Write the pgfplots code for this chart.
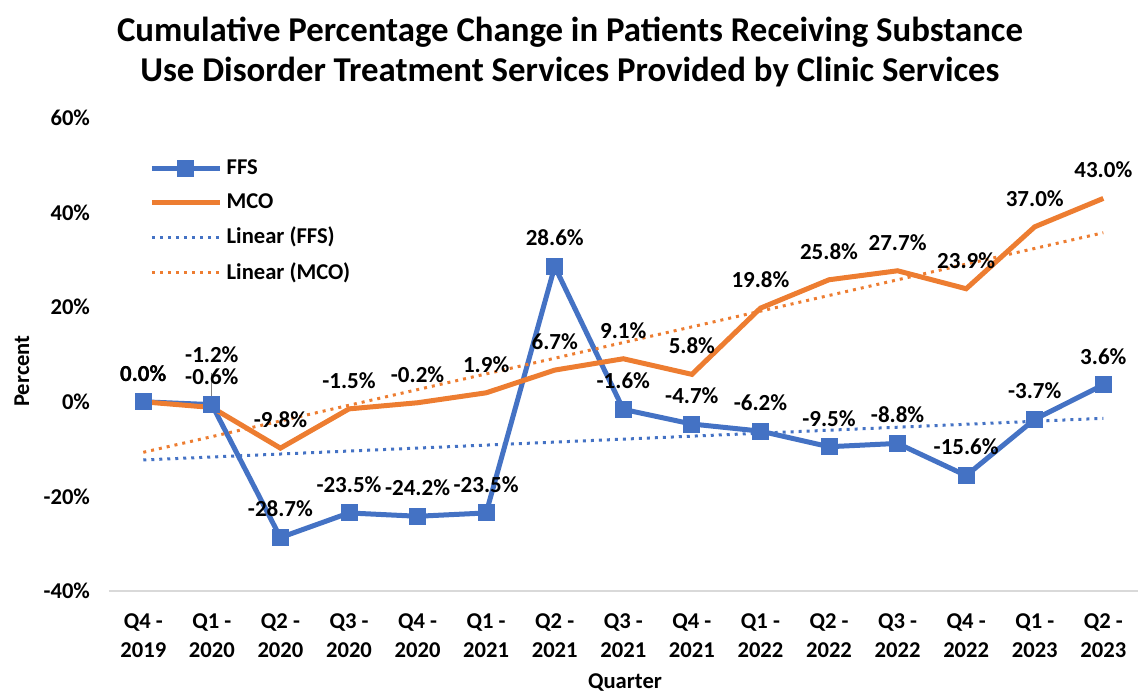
\documentclass[border=0pt]{standalone}
\usepackage{fontspec}
\setmainfont{Carlito}
\usepackage{pgfplots}
\pgfplotsset{compat=1.18}
\usetikzlibrary{calc}
\definecolor{ffs}{HTML}{4472C4}
\definecolor{mco}{HTML}{ED7D31}
\definecolor{axgray}{HTML}{D9D9D9}

% quarter index, cumulative % change, label lift (pt)
\pgfplotstableread{
x y dy
0 0.0 14.25
1 -0.6 14.0
2 -28.7 14.25
3 -23.5 14.25
4 -24.2 14.25
5 -23.5 14.25
6 28.6 14.25
7 -1.6 14.25
8 -4.7 14.25
9 -6.2 14.25
10 -9.5 14.25
11 -8.8 14.25
12 -15.6 14.25
13 -3.7 14.25
14 3.6 14.25
}\ffsdata
\pgfplotstableread{
x y dy
0 0.0 14.25
1 -1.2 26.5
2 -9.8 14.25
3 -1.5 14.25
4 -0.2 14.25
5 1.9 14.25
6 6.7 14.25
7 9.1 14.25
8 5.8 14.25
9 19.8 14.25
10 25.8 14.25
11 27.7 14.25
12 23.9 14.25
13 37.0 14.25
14 43.0 14.25
}\mcodata

\begin{document}
\begin{tikzpicture}
\begin{axis}[
  scale only axis, width=514.3pt, height=236.5pt,
  xmin=-0.5, xmax=14.5, ymin=-40, ymax=60,
  xtick={0,...,14}, ytick={-40,-20,0,20,40,60},
  xticklabels={{Q4 -\\2019},{Q1 -\\2020},{Q2 -\\2020},{Q3 -\\2020},{Q4 -\\2020},
    {Q1 -\\2021},{Q2 -\\2021},{Q3 -\\2021},{Q4 -\\2021},{Q1 -\\2022},
    {Q2 -\\2022},{Q3 -\\2022},{Q4 -\\2022},{Q1 -\\2023},{Q2 -\\2023}},
  yticklabel={\pgfmathprintnumber{\tick}\%},
  /pgf/number format/assume math mode=true,
  axis x line*=bottom, axis y line*=left,
  x axis line style={draw=axgray, line width=1pt, -},
  y axis line style={draw=none},
  major tick length=0pt,
  tick label style={font=\fontsize{11.3}{14.2}\selectfont\bfseries},
  xticklabel style={align=center, yshift=-8pt},
  yticklabel style={xshift=-6pt},
  clip=false,
  nodes near coords={\pgfmathprintnumber[fixed,fixed zerofill,precision=1]{\pgfplotspointmeta}\%},
  nodes near coords style={font=\fontsize{11.5}{13}\selectfont\bfseries, text=black, anchor=center},
  legend style={at={(0.033,0.93)}, anchor=north west, draw=none, fill=none,
    font=\fontsize{11.3}{13}\selectfont\bfseries, row sep=4pt,
    legend cell align=left},
  legend image code/.code={\draw[mark repeat=2,mark phase=2,#1] plot coordinates {(0cm,0cm) (0.6cm,0cm) (1.2cm,0cm)};},
]
\addplot[ffs, line width=2.5pt, mark=square*, mark size=3pt,
  visualization depends on={\thisrow{dy} \as \dy},
  every node near coord/.append style={yshift=\dy pt}] table[x=x, y=y] {\ffsdata};
\addlegendentry{FFS}
\addplot[mco, line width=2.5pt,
  visualization depends on={\thisrow{dy} \as \dy},
  every node near coord/.append style={yshift=\dy pt}] table[x=x, y=y] {\mcodata};
\addlegendentry{MCO}
\addplot[ffs, line width=1.5pt, dash pattern=on 1.5pt off 2.5pt, nodes near coords=] coordinates {(0,-12.30) (14,-3.49)};
\addlegendentry{Linear (FFS)}
\addplot[mco, line width=1.5pt, dash pattern=on 1.5pt off 2.5pt, nodes near coords=] coordinates {(0,-10.68) (14,35.74)};
\addlegendentry{Linear (MCO)}
\draw[gray, line width=0.6pt] (axis cs:1,6.1) -- (axis cs:1,-0.6);
\coordinate (O) at (rel axis cs:0,0);
\end{axis}
\node[font=\fontsize{17.4}{20}\selectfont\bfseries, align=center] at ($(O)+(230.5pt,269.5pt)$)
  {Cumulative Percentage Change in Patients Receiving Substance\\Use Disorder Treatment Services Provided by Clinic Services};
\node[font=\fontsize{11.3}{13}\selectfont\bfseries, rotate=90] at ($(O)+(-43.5pt,110pt)$) {Percent};
\node[font=\fontsize{11.3}{13}\selectfont\bfseries] at ($(O)+(258pt,-46pt)$) {Quarter};
\useasboundingbox ($(O)+(-54.5pt,-51.5pt)$) rectangle ($(O)+(515.5pt,295.5pt)$);
\end{tikzpicture}
\end{document}
